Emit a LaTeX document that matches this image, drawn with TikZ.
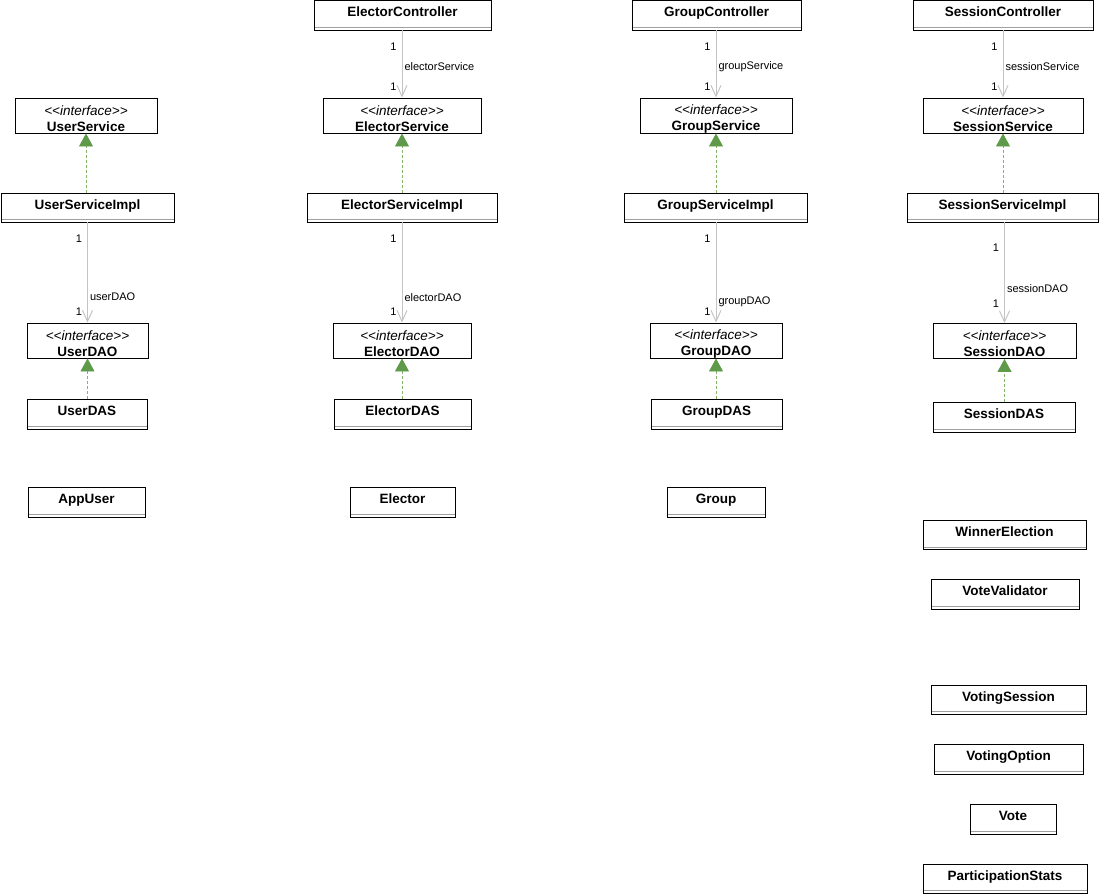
\documentclass[tikz,border=0pt]{standalone}
\usepackage{fontspec}
\setmainfont{Liberation Sans}
\usepackage{tikz}
\usetikzlibrary{arrows.meta}
\definecolor{assocgray}{HTML}{C4C4C4}
\definecolor{rlzline}{HTML}{82B366}
\definecolor{rlzhead}{HTML}{5E9A4A}
\definecolor{compline}{HTML}{A0A0A0}
\def\clsfont{\fontsize{13.5}{16}\selectfont\bfseries}
\def\lblfont{\fontsize{11}{13}\selectfont}
\newcommand\iface[1]{\rule{0pt}{16pt}{\mdseries\itshape <{}<interface>{}>}\\#1}
\tikzset{
	cls/.style={draw, fill=white, line width=0.9pt, inner sep=0pt, font=\clsfont,
		text height=8pt, text depth=5pt,
		path picture={\draw[compline, line width=0.8pt]
			([yshift=2.5pt]path picture bounding box.south west) --
			([yshift=2.5pt]path picture bounding box.south east);}},
	ifc/.style={draw, fill=white, line width=0.9pt, inner sep=0pt, align=center, font=\clsfont},
	assoc/.style={draw=assocgray, line width=1pt, -{Straight Barb[length=11pt,width=10pt]}},
	rlz/.style={draw=rlzline, line width=0.9pt, dash pattern=on 3pt off 2pt,
		-{Triangle[length=13pt,width=14pt,color=rlzhead]}},
	mult/.style={font=\lblfont, inner sep=0pt, anchor=east, xshift=-5pt},
	role/.style={font=\lblfont, inner sep=0pt, anchor=west, xshift=2pt}
}

\begin{document}
\begin{tikzpicture}[x=1pt, y=-1pt]
		%%%%% START %%%%%
		\useasboundingbox (0, 0) rectangle (1105, 895);
		
		% users
		\node[ifc, minimum width=142pt, minimum height=35pt] (us) at (86, 115.5) {\iface{UserService}};
		\node[cls, minimum width=173pt, minimum height=29pt] (usi) at (87.5, 207.5) {UserServiceImpl};
		\node[ifc, minimum width=121pt, minimum height=35pt] (udao) at (87.5, 340.5) {\iface{UserDAO}};
		\node[cls, minimum width=120pt, minimum height=30pt] (udas) at (87, 414) {UserDAS};
		\node[cls, minimum width=117pt, minimum height=30pt] (au) at (86.5, 502) {AppUser};
		
		% electors
		\node[cls, minimum width=177pt, minimum height=29.5pt] (ec) at (402.5, 15.25) {ElectorController};
		\node[ifc, minimum width=158pt, minimum height=35pt] (es) at (402, 115.5) {\iface{ElectorService}};
		\node[cls, minimum width=190pt, minimum height=29pt] (esi) at (402, 207.5) {ElectorServiceImpl};
		\node[ifc, minimum width=138pt, minimum height=35pt] (edao) at (402, 340.5) {\iface{ElectorDAO}};
		\node[cls, minimum width=137pt, minimum height=30pt] (edas) at (402.5, 414) {ElectorDAS};
		\node[cls, minimum width=105pt, minimum height=30pt] (el) at (402.5, 502) {Elector};
		
		% groups
		\node[cls, minimum width=169pt, minimum height=29.5pt] (gc) at (716.5, 15.25) {GroupController};
		\node[ifc, minimum width=152pt, minimum height=35pt] (gs) at (716, 115.5) {\iface{GroupService}};
		\node[cls, minimum width=183pt, minimum height=29pt] (gsi) at (715.5, 207.5) {GroupServiceImpl};
		\node[ifc, minimum width=132pt, minimum height=35pt] (gdao) at (716, 340.5) {\iface{GroupDAO}};
		\node[cls, minimum width=131pt, minimum height=30pt] (gdas) at (716.5, 414) {GroupDAS};
		\node[cls, minimum width=98pt, minimum height=30pt] (gr) at (716, 502) {Group};
		
		% sessions
		\node[cls, minimum width=180pt, minimum height=29.5pt] (sc) at (1003, 15.25) {SessionController};
		\node[ifc, minimum width=160pt, minimum height=35pt] (ss) at (1003, 115.5) {\iface{SessionService}};
		\node[cls, minimum width=191pt, minimum height=29pt] (ssi) at (1002.5, 207.5) {SessionServiceImpl};
		\node[ifc, minimum width=143pt, minimum height=35pt] (sdao) at (1004.5, 341) {\iface{SessionDAO}};
		\node[cls, minimum width=142pt, minimum height=30pt] (sdas) at (1004, 417) {SessionDAS};
		
		\node[cls, minimum width=163pt, minimum height=29pt] (we) at (1004.5, 535) {WinnerElection};
		\node[cls, minimum width=148pt, minimum height=30pt] (vv) at (1005, 594) {VoteValidator};
		\node[cls, minimum width=155pt, minimum height=29pt] (vs) at (1008.5, 699.5) {VotingSession};
		\node[cls, minimum width=149pt, minimum height=30pt] (vo) at (1008.5, 759) {VotingOption};
		\node[cls, minimum width=86pt, minimum height=30pt] (vt) at (1013, 819) {Vote};
		\node[cls, minimum width=164pt, minimum height=29pt] (ps) at (1005, 878.5) {ParticipationStats};
		
		% controller -> service
		\draw[assoc] (ec.south -| es.north) -- (es.north)
			node[mult, at start, yshift=-16pt] (ec1) {1}
			node[role, at end, yshift=31pt] (ecr) {electorService}
			node[mult, at end, yshift=11pt] (es1) {1};
		\draw[assoc] (gc.south -| gs.north) -- (gs.north)
			node[mult, at start, yshift=-16pt] (gc1) {1}
			node[role, at end, yshift=31pt] (gcr) {groupService}
			node[mult, at end, yshift=11pt] (gs1) {1};
		\draw[assoc] (sc.south -| ss.north) -- (ss.north)
			node[mult, at start, yshift=-16pt] (sc1) {1}
			node[role, at end, yshift=31pt] (scr) {sessionService}
			node[mult, at end, yshift=11pt] (ss1) {1};
		
		% impl -> dao
		\draw[assoc] (usi.south -| udao.north) -- (udao.north)
			node[mult, at start, yshift=-16pt] (usi1) {1}
			node[role, at end, yshift=26pt] (usir) {userDAO}
			node[mult, at end, yshift=11pt] (udao1) {1};
		\draw[assoc] (esi.south -| edao.north) -- (edao.north)
			node[mult, at start, yshift=-16pt] (esi1) {1}
			node[role, at end, yshift=25pt] (esir) {electorDAO}
			node[mult, at end, yshift=11pt] (edao1) {1};
		\draw[assoc] (gsi.south -| gdao.north) -- (gdao.north)
			node[mult, at start, yshift=-16pt] (gsi1) {1}
			node[role, at end, yshift=21pt] (gsir) {groupDAO}
			node[mult, at end, yshift=11pt] (gdao1) {1};
		\draw[assoc] (ssi.south -| sdao.north) -- (sdao.north)
			node[mult, at start, yshift=-25pt] (ssi1) {1}
			node[role, at end, yshift=34pt] (ssir) {sessionDAO}
			node[mult, at end, yshift=19pt] (sdao1) {1};
		
		% realizations
		\draw[rlz] (usi.north -| us.south) -- (us.south);
		\draw[rlz] (esi.north -| es.south) -- (es.south);
		\draw[rlz] (gsi.north -| gs.south) -- (gs.south);
		\draw[rlz] (ssi.north -| ss.south) -- (ss.south);
		
		\draw[rlz] (udas.north -| udao.south) -- (udao.south);
		\draw[rlz] (edas.north -| edao.south) -- (edao.south);
		\draw[rlz] (gdas.north -| gdao.south) -- (gdao.south);
		\draw[rlz] (sdas.north -| sdao.south) -- (sdao.south);
		
		%%%%% END %%%%%
\end{tikzpicture}
\end{document}
